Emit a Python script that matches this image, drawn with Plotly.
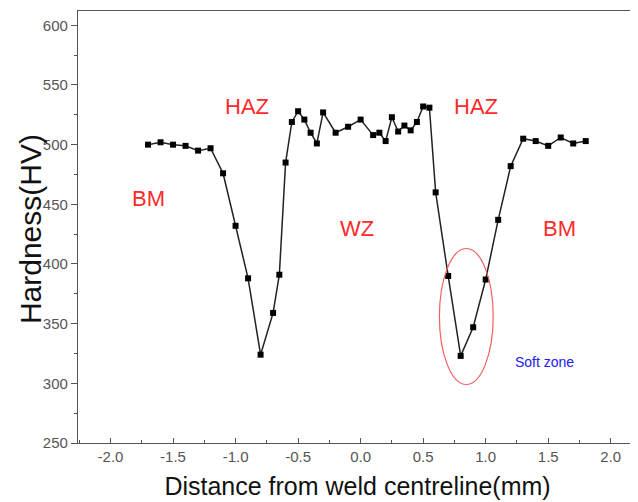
import plotly.graph_objects as go

distance_mm = [-1.7, -1.6, -1.5, -1.4, -1.3, -1.2, -1.1, -1.0, -0.9, -0.8, -0.7, -0.65,
               -0.6, -0.55, -0.5, -0.45, -0.4, -0.35, -0.3, -0.2, -0.1, 0.0, 0.1, 0.15,
               0.2, 0.25, 0.3, 0.35, 0.4, 0.45, 0.5, 0.55, 0.6, 0.7, 0.8, 0.9, 1.0,
               1.1, 1.2, 1.3, 1.4, 1.5, 1.6, 1.7, 1.8]
hardness_hv = [500, 502, 500, 499, 495, 497, 476, 432, 388, 324, 359, 391,
               485, 519, 528, 521, 510, 501, 527, 510, 515, 521, 508, 510,
               503, 523, 511, 516, 512, 519, 532, 531, 460, 390, 323, 347, 387,
               437, 482, 505, 503, 499, 506, 501, 503]

zone_labels = ["HAZ", "HAZ", "BM", "WZ", "BM", "Soft zone"]
zone_x = [-0.91, 0.92, -1.70, -0.03, 1.59, 1.47]
zone_y = [532, 532, 455, 430, 430, 318]
zone_colors = ["#ff2a2a", "#ff2a2a", "#ff2a2a", "#ff2a2a", "#ff2a2a", "#2020ee"]
zone_sizes = [22, 22, 22, 22, 22, 14]

fig = go.Figure()
fig.add_trace(go.Scatter(
    x=distance_mm, y=hardness_hv, mode="lines+markers",
    line=dict(color="#222222", width=1.5),
    marker=dict(symbol="square", size=6, color="#000000"),
    showlegend=False,
))

for t, xx, yy, c, s in zip(zone_labels, zone_x, zone_y, zone_colors, zone_sizes):
    fig.add_annotation(x=xx, y=yy, text=t, showarrow=False,
                       font=dict(color=c, size=s, family="Liberation Sans, Arial"))

fig.add_shape(type="circle", xref="x", yref="y", x0=0.63, x1=1.06, y0=299, y1=413,
              line=dict(color="#f06060", width=1.2))

# y-axis title as a rotated annotation for precise placement
fig.add_annotation(text="Hardness(HV)", xref="paper", yref="paper", x=-0.086, y=0.495,
                   textangle=-90, showarrow=False, xanchor="center", yanchor="middle",
                   font=dict(family="Liberation Sans, Arial", size=30, color="#111111"))

axis_font = dict(family="Liberation Sans, Arial", size=15, color="#555555")
fig.update_xaxes(range=[-2.26, 2.21], tickvals=[-2, -1.5, -1, -0.5, 0, 0.5, 1, 1.5, 2],
                 ticktext=["-2.0", "-1.5", "-1.0", "-0.5", "0.0", "0.5", "1.0", "1.5", "2.0"],
                 ticks="inside", ticklen=5, tickcolor="#555555", tickfont=axis_font,
                 minor=dict(dtick=0.25, tick0=0, ticks="inside", ticklen=3, tickcolor="#555555"),
                 showline=True, linecolor="#555555", linewidth=1.2, mirror=True,
                 showgrid=False, zeroline=False, automargin=False,
                 title=dict(text="Distance from weld centreline(mm)", standoff=13,
                            font=dict(family="Liberation Sans, Arial", size=25, color="#111111")))
fig.update_yaxes(range=[250, 612], tickvals=[250, 300, 350, 400, 450, 500, 550, 600],
                 ticks="outside", ticklen=6, tickcolor="#555555", tickfont=axis_font,
                 minor=dict(dtick=25, tick0=0, ticks="outside", ticklen=3, tickcolor="#555555"),
                 showline=True, linecolor="#555555", linewidth=1.2, mirror=True,
                 showgrid=False, zeroline=False, automargin=False)

# page body has an 8px margin, so the figure is sized to fill the remaining window
fig.update_layout(width=630, height=494, margin=dict(l=70, r=1, t=2.5, b=58.7),
                  plot_bgcolor="white", paper_bgcolor="white")

fig.write_html("out.html")
